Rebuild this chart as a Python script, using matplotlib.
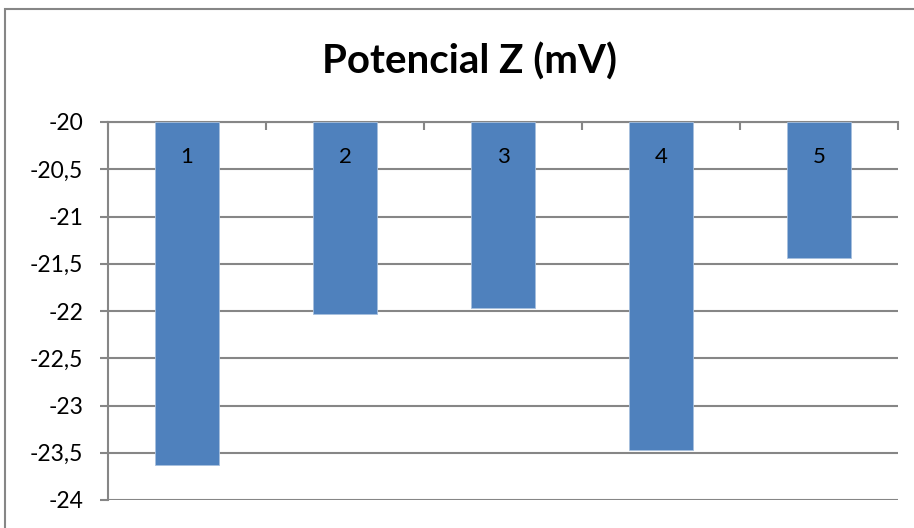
import matplotlib
matplotlib.use("Agg")
import matplotlib.pyplot as plt
import numpy as np
from matplotlib.patches import Rectangle

plt.rcParams['font.family'] = ['Lato', 'DejaVu Sans']

categories = ["1", "2", "3", "4", "5"]
values = [-23.63, -22.03, -21.97, -23.47, -21.44]
y_ticks = [-20, -20.5, -21, -21.5, -22, -22.5, -23, -23.5, -24]

base = -20
grid_col = "#868686"
bar_col = "#4F81BD"

fig = plt.figure(figsize=(9.14, 5.28), dpi=100)
ax = fig.add_axes([108/914, 1 - 500/528, 790/914, 378/528])

x = np.arange(len(categories))
ax.bar(x, np.array(values) - base, bottom=base, width=0.4, color=bar_col,
       edgecolor="#A7C0DE", linewidth=0.6, zorder=3)

ax.set_ylim(-24, -20)
ax.set_xlim(-0.5, len(categories) - 0.5)
ax.set_yticks(y_ticks)
ax.set_yticklabels([("%g" % v).replace(".", ",") for v in y_ticks], fontsize=16.5)
ax.yaxis.grid(True, color=grid_col, linewidth=1.5, zorder=0)

# category axis sits on the top (crosses at -20), labels fall inside the bars
ax.xaxis.tick_top()
ax.set_xticks(np.arange(len(categories) + 1) - 0.5)
ax.set_xticklabels([])
ax.tick_params(axis="x", direction="in", length=6, width=1.5, color=grid_col)
ax.tick_params(axis="y", length=6, width=1.5, color=grid_col, pad=12)
for xi, c in zip(x, categories):
    ax.text(xi, base - 0.37, c, ha="center", va="center", fontsize=16, zorder=5)

for side in ["right", "bottom"]:
    ax.spines[side].set_visible(False)
for side in ["left", "top"]:
    ax.spines[side].set_color(grid_col)
    ax.spines[side].set_linewidth(1.5)

fig.text(470/914, 1 - 62/528, "Potencial Z (mV)", fontsize=29, fontweight="bold",
         ha="center", va="center")

fig.patches.append(Rectangle((5/914, -0.1), 1.2, 1 - 9/528 + 0.1, transform=fig.transFigure,
                             fill=False, edgecolor=grid_col, linewidth=1.5))

fig.savefig("out.png", dpi=100)
